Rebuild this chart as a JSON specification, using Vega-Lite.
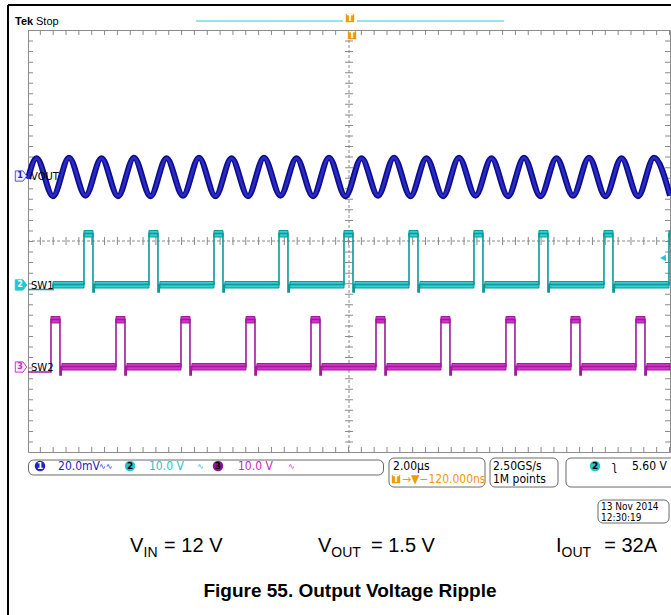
{
 "$schema": "https://vega.github.io/schema/vega-lite/v6.json",
 "width": 642, "height": 422,
 "autosize": {"type": "none"},
 "padding": {"left": 28, "top": 30, "right": 1, "bottom": 163},
 "background": "white",
 "config": {"view": {"stroke": "#8c8c8c", "strokeWidth": 1}},
 "data": {"values": [{}]},
 "datasets": {
  "vout": [
   {"t": -10, "v": 1.18},
   {"t": -9.735, "v": 1.57}, {"t": -9.221, "v": 0.85},
   {"t": -8.723, "v": 1.58}, {"t": -8.209, "v": 0.86},
   {"t": -7.71, "v": 1.57}, {"t": -7.196, "v": 0.85},
   {"t": -6.698, "v": 1.58}, {"t": -6.184, "v": 0.85},
   {"t": -5.685, "v": 1.57}, {"t": -5.171, "v": 0.86},
   {"t": -4.673, "v": 1.58}, {"t": -4.159, "v": 0.85},
   {"t": -3.66, "v": 1.57}, {"t": -3.146, "v": 0.85},
   {"t": -2.648, "v": 1.58}, {"t": -2.134, "v": 0.86},
   {"t": -1.635, "v": 1.57}, {"t": -1.121, "v": 0.85},
   {"t": -0.623, "v": 1.58}, {"t": -0.109, "v": 0.85},
   {"t": 0.39, "v": 1.57}, {"t": 0.904, "v": 0.86},
   {"t": 1.402, "v": 1.58}, {"t": 1.916, "v": 0.85},
   {"t": 2.414, "v": 1.57}, {"t": 2.929, "v": 0.85},
   {"t": 3.427, "v": 1.58}, {"t": 3.941, "v": 0.86},
   {"t": 4.439, "v": 1.57}, {"t": 4.954, "v": 0.85},
   {"t": 5.452, "v": 1.58}, {"t": 5.966, "v": 0.85},
   {"t": 6.464, "v": 1.57}, {"t": 6.979, "v": 0.86},
   {"t": 7.477, "v": 1.58}, {"t": 7.991, "v": 0.85},
   {"t": 8.489, "v": 1.57}, {"t": 9.004, "v": 0.85},
   {"t": 9.502, "v": 1.58}, {"t": 10.0, "v": 0.86}
  ],
  "sw": [
   {"ch": "SW1", "t": -10, "v": -0.92},
   {"ch": "SW1", "t": -9.221, "v": -0.825},
   {"ch": "SW1", "t": -8.256, "v": 0.142}, {"ch": "SW1", "t": -7.976, "v": -0.967}, {"ch": "SW1", "t": -7.936, "v": -0.825},
   {"ch": "SW1", "t": -6.231, "v": 0.142}, {"ch": "SW1", "t": -5.951, "v": -0.967}, {"ch": "SW1", "t": -5.911, "v": -0.825},
   {"ch": "SW1", "t": -4.206, "v": 0.142}, {"ch": "SW1", "t": -3.926, "v": -0.967}, {"ch": "SW1", "t": -3.886, "v": -0.825},
   {"ch": "SW1", "t": -2.181, "v": 0.142}, {"ch": "SW1", "t": -1.901, "v": -0.967}, {"ch": "SW1", "t": -1.861, "v": -0.825},
   {"ch": "SW1", "t": -0.156, "v": 0.142}, {"ch": "SW1", "t": 0.124, "v": -0.967}, {"ch": "SW1", "t": 0.164, "v": -0.825},
   {"ch": "SW1", "t": 1.869, "v": 0.142}, {"ch": "SW1", "t": 2.149, "v": -0.967}, {"ch": "SW1", "t": 2.189, "v": -0.825},
   {"ch": "SW1", "t": 3.893, "v": 0.142}, {"ch": "SW1", "t": 4.173, "v": -0.967}, {"ch": "SW1", "t": 4.213, "v": -0.825},
   {"ch": "SW1", "t": 5.918, "v": 0.142}, {"ch": "SW1", "t": 6.198, "v": -0.967}, {"ch": "SW1", "t": 6.238, "v": -0.825},
   {"ch": "SW1", "t": 7.943, "v": 0.142}, {"ch": "SW1", "t": 8.223, "v": -0.967}, {"ch": "SW1", "t": 8.263, "v": -0.825},
   {"ch": "SW1", "t": 9.968, "v": 0.142}, {"ch": "SW1", "t": 10.0, "v": 0.142},
   {"ch": "SW2", "t": -10, "v": -2.483},
   {"ch": "SW2", "t": -9.284, "v": -1.488}, {"ch": "SW2", "t": -9.004, "v": -2.54}, {"ch": "SW2", "t": -8.964, "v": -2.379},
   {"ch": "SW2", "t": -7.259, "v": -1.488}, {"ch": "SW2", "t": -6.979, "v": -2.54}, {"ch": "SW2", "t": -6.939, "v": -2.379},
   {"ch": "SW2", "t": -5.234, "v": -1.488}, {"ch": "SW2", "t": -4.954, "v": -2.54}, {"ch": "SW2", "t": -4.914, "v": -2.379},
   {"ch": "SW2", "t": -3.209, "v": -1.488}, {"ch": "SW2", "t": -2.929, "v": -2.54}, {"ch": "SW2", "t": -2.889, "v": -2.379},
   {"ch": "SW2", "t": -1.184, "v": -1.488}, {"ch": "SW2", "t": -0.904, "v": -2.54}, {"ch": "SW2", "t": -0.864, "v": -2.379},
   {"ch": "SW2", "t": 0.841, "v": -1.488}, {"ch": "SW2", "t": 1.121, "v": -2.54}, {"ch": "SW2", "t": 1.161, "v": -2.379},
   {"ch": "SW2", "t": 2.865, "v": -1.488}, {"ch": "SW2", "t": 3.145, "v": -2.54}, {"ch": "SW2", "t": 3.185, "v": -2.379},
   {"ch": "SW2", "t": 4.89, "v": -1.488}, {"ch": "SW2", "t": 5.17, "v": -2.54}, {"ch": "SW2", "t": 5.21, "v": -2.379},
   {"ch": "SW2", "t": 6.915, "v": -1.488}, {"ch": "SW2", "t": 7.195, "v": -2.54}, {"ch": "SW2", "t": 7.235, "v": -2.379},
   {"ch": "SW2", "t": 8.94, "v": -1.488}, {"ch": "SW2", "t": 9.22, "v": -2.54}, {"ch": "SW2", "t": 9.26, "v": -2.379},
   {"ch": "SW2", "t": 10.0, "v": -2.379}
  ],
  "bands": [
   {"ch": "SW1", "t": -8.256, "t2": -7.976, "v": 0.076, "v2": 0.199},
   {"ch": "SW1", "t": -6.231, "t2": -5.951, "v": 0.076, "v2": 0.199},
   {"ch": "SW1", "t": -4.206, "t2": -3.926, "v": 0.076, "v2": 0.199},
   {"ch": "SW1", "t": -2.181, "t2": -1.901, "v": 0.076, "v2": 0.199},
   {"ch": "SW1", "t": -0.156, "t2": 0.124, "v": 0.076, "v2": 0.199},
   {"ch": "SW1", "t": 1.869, "t2": 2.149, "v": 0.076, "v2": 0.199},
   {"ch": "SW1", "t": 3.893, "t2": 4.173, "v": 0.076, "v2": 0.199},
   {"ch": "SW1", "t": 5.918, "t2": 6.198, "v": 0.076, "v2": 0.199},
   {"ch": "SW1", "t": 7.943, "t2": 8.223, "v": 0.076, "v2": 0.199},
   {"ch": "SW1", "t": 9.968, "t2": 10.0, "v": 0.076, "v2": 0.199},
   {"ch": "SW1", "t": -9.221, "t2": -8.256, "v": -0.891, "v2": -0.768},
   {"ch": "SW1", "t": -7.916, "t2": -6.231, "v": -0.891, "v2": -0.768},
   {"ch": "SW1", "t": -5.891, "t2": -4.206, "v": -0.891, "v2": -0.768},
   {"ch": "SW1", "t": -3.866, "t2": -2.181, "v": -0.891, "v2": -0.768},
   {"ch": "SW1", "t": -1.841, "t2": -0.156, "v": -0.891, "v2": -0.768},
   {"ch": "SW1", "t": 0.184, "t2": 1.869, "v": -0.891, "v2": -0.768},
   {"ch": "SW1", "t": 2.209, "t2": 3.893, "v": -0.891, "v2": -0.768},
   {"ch": "SW1", "t": 4.233, "t2": 5.918, "v": -0.891, "v2": -0.768},
   {"ch": "SW1", "t": 6.258, "t2": 7.943, "v": -0.891, "v2": -0.768},
   {"ch": "SW1", "t": 8.283, "t2": 9.968, "v": -0.891, "v2": -0.768},
   {"ch": "SW2", "t": -9.284, "t2": -9.004, "v": -1.554, "v2": -1.431},
   {"ch": "SW2", "t": -7.259, "t2": -6.979, "v": -1.554, "v2": -1.431},
   {"ch": "SW2", "t": -5.234, "t2": -4.954, "v": -1.554, "v2": -1.431},
   {"ch": "SW2", "t": -3.209, "t2": -2.929, "v": -1.554, "v2": -1.431},
   {"ch": "SW2", "t": -1.184, "t2": -0.904, "v": -1.554, "v2": -1.431},
   {"ch": "SW2", "t": 0.841, "t2": 1.121, "v": -1.554, "v2": -1.431},
   {"ch": "SW2", "t": 2.865, "t2": 3.145, "v": -1.554, "v2": -1.431},
   {"ch": "SW2", "t": 4.89, "t2": 5.17, "v": -1.554, "v2": -1.431},
   {"ch": "SW2", "t": 6.915, "t2": 7.195, "v": -1.554, "v2": -1.431},
   {"ch": "SW2", "t": 8.94, "t2": 9.22, "v": -1.554, "v2": -1.431},
   {"ch": "SW2", "t": -8.944, "t2": -7.259, "v": -2.446, "v2": -2.322},
   {"ch": "SW2", "t": -6.919, "t2": -5.234, "v": -2.446, "v2": -2.322},
   {"ch": "SW2", "t": -4.894, "t2": -3.209, "v": -2.446, "v2": -2.322},
   {"ch": "SW2", "t": -2.869, "t2": -1.184, "v": -2.446, "v2": -2.322},
   {"ch": "SW2", "t": -0.844, "t2": 0.841, "v": -2.446, "v2": -2.322},
   {"ch": "SW2", "t": 1.181, "t2": 2.865, "v": -2.446, "v2": -2.322},
   {"ch": "SW2", "t": 3.205, "t2": 4.89, "v": -2.446, "v2": -2.322},
   {"ch": "SW2", "t": 5.23, "t2": 6.915, "v": -2.446, "v2": -2.322},
   {"ch": "SW2", "t": 7.255, "t2": 8.94, "v": -2.446, "v2": -2.322},
   {"ch": "SW2", "t": 9.28, "t2": 10.0, "v": -2.446, "v2": -2.322}
  ],
  "boxes": [
   {"t": -9.984, "t2": 1.075, "v": -4.152, "v2": -4.436},
   {"t": 1.246, "t2": 4.237, "v": -4.114, "v2": -4.664},
   {"t": 4.393, "t2": 6.511, "v": -4.114, "v2": -4.664},
   {"t": 6.76, "t2": 10.4, "v": -4.114, "v2": -4.664},
   {"t": 7.757, "t2": 9.97, "v": -4.91, "v2": -5.346}
  ],
  "dots": [
   {"t": -9.626, "v": -4.265, "c": "b"},
   {"t": -6.822, "v": -4.265, "c": "c"},
   {"t": -4.081, "v": -4.265, "c": "p"},
   {"t": 7.664, "v": -4.265, "c": "c"}
  ],
  "osq": [
   {"t": 0.031, "v": 4.227},
   {"t": 0.093, "v": 3.905},
   {"t": 1.464, "v": -4.512}
  ],
  "ann": [
   {"g": "tekb", "s": "Tek", "t": -10.405, "v": 4.095, "c": "k"},
   {"g": "tek", "s": "Stop", "t": -9.751, "v": 4.095, "c": "k"},
   {"g": "lab", "s": "VOUT", "t": -9.907, "v": 1.156, "c": "k"},
   {"g": "lab", "s": "SW1", "t": -9.907, "v": -0.91, "c": "k"},
   {"g": "lab", "s": "SW2", "t": -9.907, "v": -2.464, "c": "k"},
   {"g": "mk", "s": "1", "t": -10.25, "v": 1.232, "c": "b"},
   {"g": "mk", "s": "2", "t": -10.25, "v": -0.834, "c": "w"},
   {"g": "mk", "s": "3", "t": -10.25, "v": -2.389, "c": "m"},
   {"g": "st", "s": "20.0mV", "t": -9.065, "v": -4.341, "c": "b"},
   {"g": "st", "s": "10.0 V", "t": -6.231, "v": -4.341, "c": "c"},
   {"g": "st", "s": "10.0 V", "t": -3.458, "v": -4.341, "c": "m"},
   {"g": "st", "s": "2.00µs", "t": 1.371, "v": -4.341, "c": "k"},
   {"g": "st", "s": "→▼−120.000ns", "t": 1.651, "v": -4.588, "c": "o"},
   {"g": "st", "s": "2.50GS/s", "t": 4.486, "v": -4.341, "c": "k"},
   {"g": "st", "s": "1M points", "t": 4.486, "v": -4.588, "c": "k"},
   {"g": "st", "s": "ʅ", "t": 8.193, "v": -4.341, "c": "k"},
   {"g": "st", "s": "5.60 V", "t": 8.816, "v": -4.341, "c": "k"},
   {"g": "sym", "s": "∿∿", "t": -7.788, "v": -4.33, "c": "b"},
   {"g": "sym", "s": "∿", "t": -4.735, "v": -4.33, "c": "c"},
   {"g": "sym", "s": "∿", "t": -1.9, "v": -4.33, "c": "m"},
   {"g": "stc", "s": "1", "t": -9.626, "v": -4.265, "c": "w"},
   {"g": "stc", "s": "2", "t": -6.822, "v": -4.265, "c": "k"},
   {"g": "stc", "s": "3", "t": -4.081, "v": -4.265, "c": "k"},
   {"g": "stc", "s": "2", "t": 7.664, "v": -4.265, "c": "k"},
   {"g": "stc", "s": "T", "t": 1.464, "v": -4.512, "c": "w"},
   {"g": "stc", "s": "T", "t": 0.031, "v": 4.227, "c": "w"},
   {"g": "stc", "s": "T", "t": 0.093, "v": 3.905, "c": "w"},
   {"g": "date", "s": "13 Nov 2014", "t": 7.85, "v": -5.1, "c": "k"},
   {"g": "date", "s": "12:30:19", "t": 7.85, "v": -5.308, "c": "k"},
   {"g": "big", "s": "V", "t": -6.822, "v": -5.896, "c": "k"},
   {"g": "sub", "s": "IN", "t": -6.4, "v": -5.991, "c": "k"},
   {"g": "big", "s": "= 12 V", "t": -5.76, "v": -5.896, "c": "k"},
   {"g": "big", "s": "V", "t": -0.966, "v": -5.896, "c": "k"},
   {"g": "sub", "s": "OUT", "t": -0.55, "v": -5.991, "c": "k"},
   {"g": "big", "s": "= 1.5 V", "t": 0.685, "v": -5.896, "c": "k"},
   {"g": "big", "s": "I", "t": 6.449, "v": -5.896, "c": "k"},
   {"g": "sub", "s": "OUT", "t": 6.62, "v": -5.991, "c": "k"},
   {"g": "big", "s": "= 32A", "t": 7.95, "v": -5.896, "c": "k"},
   {"g": "cap", "s": "Figure 55. Output Voltage Ripple", "t": 0.031, "v": -6.749, "c": "k"}
  ]
 },
 "layer": [
  {"data": {"name": "vout"}, "mark": {"type": "point", "opacity": 0},
   "encoding": {
    "x": {"field": "t", "type": "quantitative", "scale": {"domain": [-10, 10], "nice": false, "zero": false},
          "axis": {"title": null, "labels": false, "ticks": false, "domain": false, "grid": true, "tickCount": 10, "gridColor": "#9a9a9a", "gridDash": [1, 9.55], "gridWidth": 1}},
    "y": {"field": "v", "type": "quantitative", "scale": {"domain": [-4, 4], "nice": false, "zero": false},
          "axis": {"title": null, "labels": false, "ticks": false, "domain": false, "grid": true, "tickCount": 8, "gridColor": "#9a9a9a", "gridDash": [1, 11.84], "gridWidth": 1}}}},
  {"mark": {"type": "rule", "color": "#8a8a8a", "strokeDash": [3, 2], "strokeWidth": 1}, "encoding": {"x": {"datum": 0, "axis": null}}},
  {"mark": {"type": "rule", "color": "#8a8a8a", "strokeDash": [1, 9.55], "strokeWidth": 8}, "encoding": {"x": {"datum": 0, "axis": null}}},
  {"mark": {"type": "rule", "color": "#8a8a8a", "strokeDash": [3, 2], "strokeWidth": 1}, "encoding": {"y": {"datum": 0, "axis": null}}},
  {"mark": {"type": "rule", "color": "#8a8a8a", "strokeDash": [1, 11.84], "strokeWidth": 8}, "encoding": {"y": {"datum": 0, "axis": null}}},
  {"mark": {"type": "rule", "color": "#8a8a8a", "strokeDash": [1, 9.55], "strokeWidth": 5}, "encoding": {"x": {"datum": -9.922, "axis": null}}},
  {"mark": {"type": "rule", "color": "#8a8a8a", "strokeDash": [1, 9.55], "strokeWidth": 5}, "encoding": {"x": {"datum": 9.922, "axis": null}}},
  {"mark": {"type": "rule", "color": "#8a8a8a", "strokeDash": [1, 11.84], "strokeWidth": 5}, "encoding": {"y": {"datum": 3.953, "axis": null}}},
  {"mark": {"type": "rule", "color": "#8a8a8a", "strokeDash": [1, 11.84], "strokeWidth": 5}, "encoding": {"y": {"datum": -3.953, "axis": null}}},
  {"data": {"name": "bands"}, "mark": {"type": "rect", "strokeWidth": 1},
   "encoding": {
    "x": {"field": "t", "type": "quantitative", "axis": null}, "x2": {"field": "t2"},
    "y": {"field": "v", "type": "quantitative", "axis": null}, "y2": {"field": "v2"},
    "fill": {"field": "ch", "type": "nominal", "scale": {"domain": ["SW1", "SW2"], "range": ["#2fd0d2", "#d632d0"]}, "legend": null},
    "stroke": {"field": "ch", "type": "nominal", "scale": {"domain": ["SW1", "SW2"], "range": ["#0f9899", "#a01a9a"]}, "legend": null}}},
  {"data": {"name": "sw"}, "mark": {"type": "line", "interpolate": "step-after", "strokeWidth": 1.6},
   "encoding": {
    "x": {"field": "t", "type": "quantitative", "axis": null},
    "y": {"field": "v", "type": "quantitative", "axis": null},
    "stroke": {"field": "ch", "type": "nominal", "scale": {"domain": ["SW1", "SW2"], "range": ["#0f9899", "#a01a9a"]}, "legend": null}}},
  {"data": {"name": "vout"}, "mark": {"type": "line", "interpolate": "monotone", "color": "#0d0d8e", "strokeWidth": 6},
   "encoding": {"x": {"field": "t", "type": "quantitative", "axis": null}, "y": {"field": "v", "type": "quantitative", "axis": null}}},
  {"data": {"name": "vout"}, "mark": {"type": "line", "interpolate": "monotone", "color": "#2a2ac4", "strokeWidth": 2.6},
   "encoding": {"x": {"field": "t", "type": "quantitative", "axis": null}, "y": {"field": "v", "type": "quantitative", "axis": null}}},
  {"mark": {"type": "rule", "color": "#000000", "strokeWidth": 2}, "encoding": {"x": {"datum": -10.623, "axis": null}, "x2": {"datum": 10.05}, "y": {"datum": 4.474, "axis": null}}},
  {"mark": {"type": "rule", "color": "#000000", "strokeWidth": 2}, "encoding": {"x": {"datum": -10.623, "axis": null}, "y": {"datum": 4.474, "axis": null}, "y2": {"datum": -7.09}}},
  {"mark": {"type": "rule", "color": "#6fdfe6", "strokeWidth": 1.5}, "encoding": {"x": {"datum": -4.766, "axis": null}, "x2": {"datum": -0.187}, "y": {"datum": 4.171, "axis": null}}},
  {"mark": {"type": "rule", "color": "#6fdfe6", "strokeWidth": 1.5}, "encoding": {"x": {"datum": 0.249, "axis": null}, "x2": {"datum": 4.829}, "y": {"datum": 4.171, "axis": null}}},
  {"mark": {"type": "point", "shape": "M-1,-0.9L0.35,-0.9L1,0L0.35,0.9L-1,0.9Z", "size": 130, "fill": "#eeeeff", "stroke": "#5858d8", "strokeWidth": 1, "opacity": 1, "filled": true},
   "encoding": {"x": {"datum": -10.218, "axis": null}, "y": {"datum": 1.232, "axis": null}}},
  {"mark": {"type": "point", "shape": "M-1,-0.9L0.35,-0.9L1,0L0.35,0.9L-1,0.9Z", "size": 130, "fill": "#22c8d4", "stroke": "#22c8d4", "strokeWidth": 1, "opacity": 1, "filled": true},
   "encoding": {"x": {"datum": -10.218, "axis": null}, "y": {"datum": -0.834, "axis": null}}},
  {"mark": {"type": "point", "shape": "M-1,-0.9L0.35,-0.9L1,0L0.35,0.9L-1,0.9Z", "size": 130, "fill": "#fff0ff", "stroke": "#c040c0", "strokeWidth": 1, "opacity": 1, "filled": true},
   "encoding": {"x": {"datum": -10.218, "axis": null}, "y": {"datum": -2.389, "axis": null}}},
  {"mark": {"type": "point", "shape": "triangle-left", "size": 45, "fill": "#22c8d4", "strokeWidth": 0, "opacity": 1, "filled": true},
   "encoding": {"x": {"datum": 9.782, "axis": null}, "y": {"datum": -0.322, "axis": null}}},
  {"data": {"name": "boxes"}, "mark": {"type": "rect", "fill": "white", "stroke": "#6a6a6a", "strokeWidth": 1, "cornerRadius": 5},
   "encoding": {"x": {"field": "t", "type": "quantitative", "axis": null}, "x2": {"field": "t2"}, "y": {"field": "v", "type": "quantitative", "axis": null}, "y2": {"field": "v2"}}},
  {"data": {"name": "dots"}, "mark": {"type": "point", "shape": "circle", "size": 110, "filled": true, "opacity": 1},
   "encoding": {"x": {"field": "t", "type": "quantitative", "axis": null}, "y": {"field": "v", "type": "quantitative", "axis": null},
    "color": {"field": "c", "type": "nominal", "scale": {"domain": ["k", "b", "c", "m", "o", "w", "p"], "range": ["#000000", "#2222c8", "#26c6c6", "#c42ac4", "#f09a00", "#ffffff", "#8a1a8a"]}, "legend": null}}},
  {"data": {"name": "osq"}, "mark": {"type": "point", "shape": "square", "size": 70, "filled": true, "opacity": 1, "color": "#f09a00"},
   "encoding": {"x": {"field": "t", "type": "quantitative", "axis": null}, "y": {"field": "v", "type": "quantitative", "axis": null}}},
  {"data": {"name": "ann"}, "transform": [{"filter": {"field": "g", "equal": "tekb"}}],
   "mark": {"type": "text", "align": "left", "baseline": "alphabetic", "font": "Liberation Sans", "fontSize": 11, "fontWeight": "bold"},
   "encoding": {"x": {"field": "t", "type": "quantitative", "axis": null}, "y": {"field": "v", "type": "quantitative", "axis": null}, "text": {"field": "s"},
    "color": {"field": "c", "type": "nominal", "scale": {"domain": ["k", "b", "c", "m", "o", "w", "p"], "range": ["#000000", "#2222c8", "#26c6c6", "#c42ac4", "#f09a00", "#ffffff", "#8a1a8a"]}, "legend": null}}},
  {"data": {"name": "ann"}, "transform": [{"filter": {"field": "g", "equal": "tek"}}],
   "mark": {"type": "text", "align": "left", "baseline": "alphabetic", "font": "Liberation Sans", "fontSize": 11},
   "encoding": {"x": {"field": "t", "type": "quantitative", "axis": null}, "y": {"field": "v", "type": "quantitative", "axis": null}, "text": {"field": "s"},
    "color": {"field": "c", "type": "nominal", "scale": {"domain": ["k", "b", "c", "m", "o", "w", "p"], "range": ["#000000", "#2222c8", "#26c6c6", "#c42ac4", "#f09a00", "#ffffff", "#8a1a8a"]}, "legend": null}}},
  {"data": {"name": "ann"}, "transform": [{"filter": {"field": "g", "equal": "lab"}}],
   "mark": {"type": "text", "align": "left", "baseline": "alphabetic", "font": "DejaVu Sans", "fontSize": 10},
   "encoding": {"x": {"field": "t", "type": "quantitative", "axis": null}, "y": {"field": "v", "type": "quantitative", "axis": null}, "text": {"field": "s"},
    "color": {"field": "c", "type": "nominal", "scale": {"domain": ["k", "b", "c", "m", "o", "w", "p"], "range": ["#000000", "#2222c8", "#26c6c6", "#c42ac4", "#f09a00", "#ffffff", "#8a1a8a"]}, "legend": null}}},
  {"data": {"name": "ann"}, "transform": [{"filter": {"field": "g", "equal": "mk"}}],
   "mark": {"type": "text", "align": "center", "baseline": "middle", "font": "DejaVu Sans", "fontSize": 8, "fontWeight": "bold"},
   "encoding": {"x": {"field": "t", "type": "quantitative", "axis": null}, "y": {"field": "v", "type": "quantitative", "axis": null}, "text": {"field": "s"},
    "color": {"field": "c", "type": "nominal", "scale": {"domain": ["k", "b", "c", "m", "o", "w", "p"], "range": ["#000000", "#2222c8", "#26c6c6", "#c42ac4", "#f09a00", "#ffffff", "#8a1a8a"]}, "legend": null}}},
  {"data": {"name": "ann"}, "transform": [{"filter": {"field": "g", "equal": "st"}}],
   "mark": {"type": "text", "align": "left", "baseline": "alphabetic", "font": "Liberation Sans Narrow, DejaVu Sans Condensed, Liberation Sans", "fontSize": 12},
   "encoding": {"x": {"field": "t", "type": "quantitative", "axis": null}, "y": {"field": "v", "type": "quantitative", "axis": null}, "text": {"field": "s"},
    "color": {"field": "c", "type": "nominal", "scale": {"domain": ["k", "b", "c", "m", "o", "w", "p"], "range": ["#000000", "#2222c8", "#26c6c6", "#c42ac4", "#f09a00", "#ffffff", "#8a1a8a"]}, "legend": null}}},
  {"data": {"name": "ann"}, "transform": [{"filter": {"field": "g", "equal": "sym"}}],
   "mark": {"type": "text", "align": "left", "baseline": "alphabetic", "font": "DejaVu Sans", "fontSize": 8},
   "encoding": {"x": {"field": "t", "type": "quantitative", "axis": null}, "y": {"field": "v", "type": "quantitative", "axis": null}, "text": {"field": "s"},
    "color": {"field": "c", "type": "nominal", "scale": {"domain": ["k", "b", "c", "m", "o", "w", "p"], "range": ["#000000", "#2222c8", "#26c6c6", "#c42ac4", "#f09a00", "#ffffff", "#8a1a8a"]}, "legend": null}}},
  {"data": {"name": "ann"}, "transform": [{"filter": {"field": "g", "equal": "stc"}}],
   "mark": {"type": "text", "align": "center", "baseline": "middle", "font": "DejaVu Sans", "fontSize": 9, "fontWeight": "bold"},
   "encoding": {"x": {"field": "t", "type": "quantitative", "axis": null}, "y": {"field": "v", "type": "quantitative", "axis": null}, "text": {"field": "s"},
    "color": {"field": "c", "type": "nominal", "scale": {"domain": ["k", "b", "c", "m", "o", "w", "p"], "range": ["#000000", "#2222c8", "#26c6c6", "#c42ac4", "#f09a00", "#ffffff", "#8a1a8a"]}, "legend": null}}},
  {"data": {"name": "ann"}, "transform": [{"filter": {"field": "g", "equal": "date"}}],
   "mark": {"type": "text", "align": "left", "baseline": "alphabetic", "font": "Liberation Sans Narrow, DejaVu Sans Condensed, Liberation Sans", "fontSize": 10},
   "encoding": {"x": {"field": "t", "type": "quantitative", "axis": null}, "y": {"field": "v", "type": "quantitative", "axis": null}, "text": {"field": "s"},
    "color": {"field": "c", "type": "nominal", "scale": {"domain": ["k", "b", "c", "m", "o", "w", "p"], "range": ["#000000", "#2222c8", "#26c6c6", "#c42ac4", "#f09a00", "#ffffff", "#8a1a8a"]}, "legend": null}}},
  {"data": {"name": "ann"}, "transform": [{"filter": {"field": "g", "equal": "big"}}],
   "mark": {"type": "text", "align": "left", "baseline": "alphabetic", "font": "Liberation Sans", "fontSize": 20},
   "encoding": {"x": {"field": "t", "type": "quantitative", "axis": null}, "y": {"field": "v", "type": "quantitative", "axis": null}, "text": {"field": "s"},
    "color": {"field": "c", "type": "nominal", "scale": {"domain": ["k", "b", "c", "m", "o", "w", "p"], "range": ["#000000", "#2222c8", "#26c6c6", "#c42ac4", "#f09a00", "#ffffff", "#8a1a8a"]}, "legend": null}}},
  {"data": {"name": "ann"}, "transform": [{"filter": {"field": "g", "equal": "sub"}}],
   "mark": {"type": "text", "align": "left", "baseline": "alphabetic", "font": "Liberation Sans", "fontSize": 14},
   "encoding": {"x": {"field": "t", "type": "quantitative", "axis": null}, "y": {"field": "v", "type": "quantitative", "axis": null}, "text": {"field": "s"},
    "color": {"field": "c", "type": "nominal", "scale": {"domain": ["k", "b", "c", "m", "o", "w", "p"], "range": ["#000000", "#2222c8", "#26c6c6", "#c42ac4", "#f09a00", "#ffffff", "#8a1a8a"]}, "legend": null}}},
  {"data": {"name": "ann"}, "transform": [{"filter": {"field": "g", "equal": "cap"}}],
   "mark": {"type": "text", "align": "center", "baseline": "alphabetic", "font": "Liberation Sans", "fontSize": 19, "fontWeight": "bold"},
   "encoding": {"x": {"field": "t", "type": "quantitative", "axis": null}, "y": {"field": "v", "type": "quantitative", "axis": null}, "text": {"field": "s"},
    "color": {"field": "c", "type": "nominal", "scale": {"domain": ["k", "b", "c", "m", "o", "w", "p"], "range": ["#000000", "#2222c8", "#26c6c6", "#c42ac4", "#f09a00", "#ffffff", "#8a1a8a"]}, "legend": null}}}
 ]
}
